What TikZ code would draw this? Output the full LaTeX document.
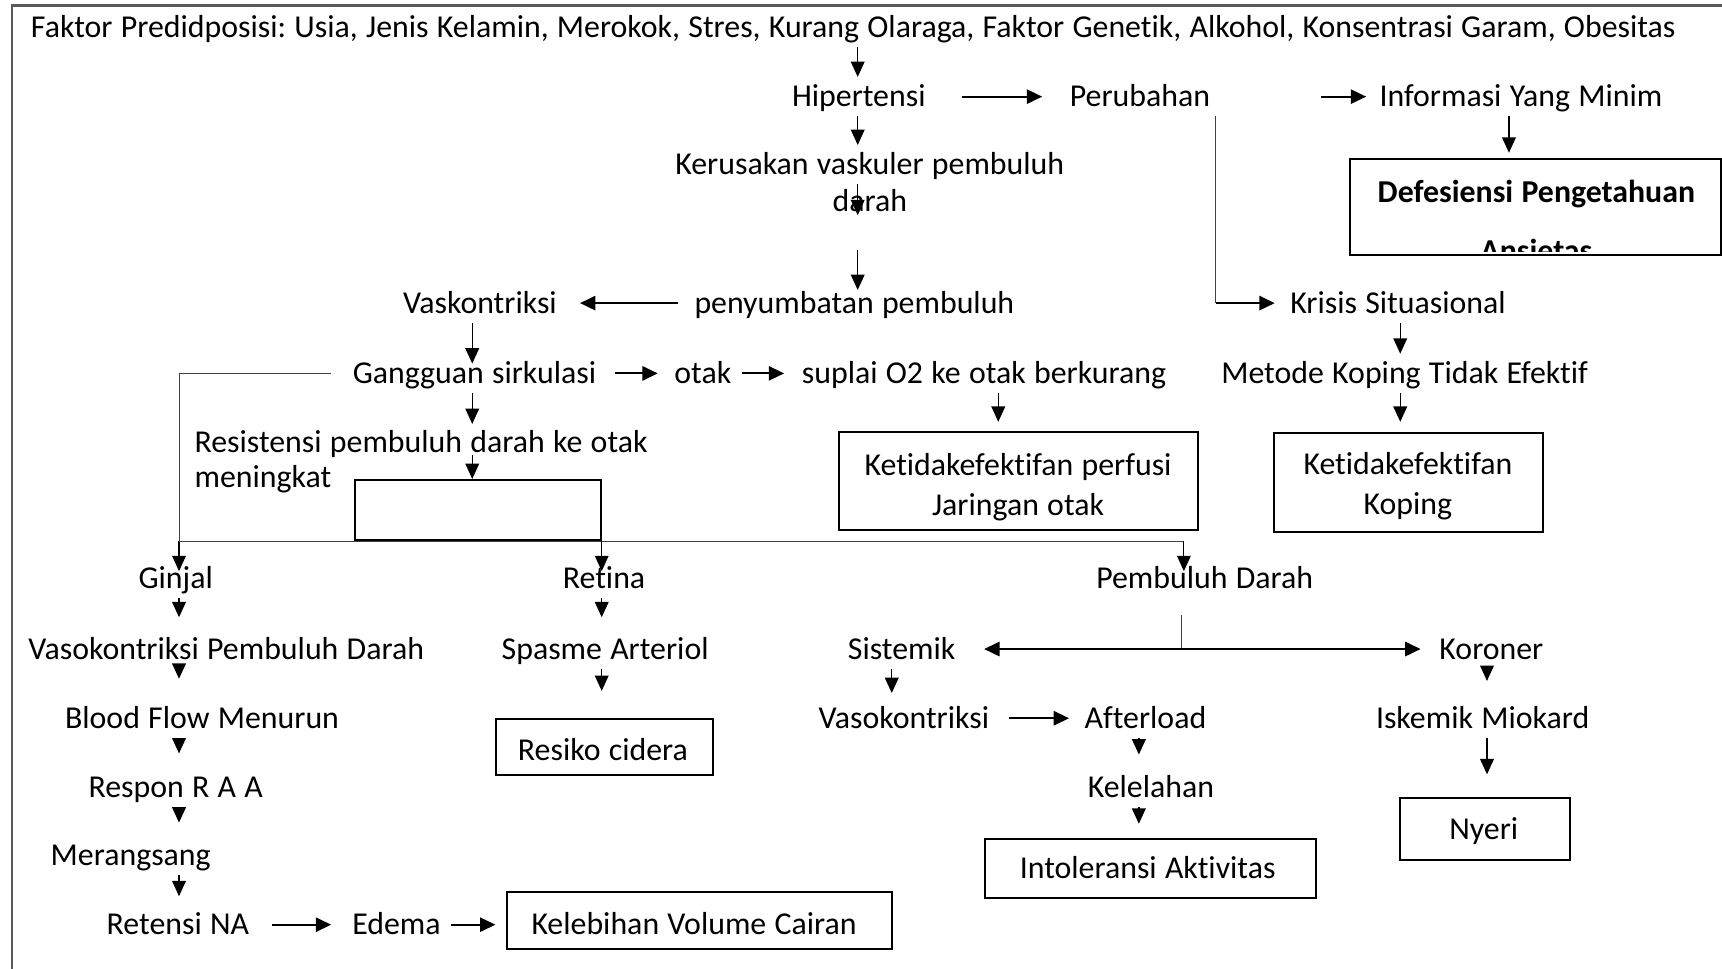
\documentclass[tikz,border=0pt]{standalone}
\usepackage{fontspec}
\setmainfont{Carlito}[Ligatures=NoCommon, WordSpace=1.15]
\usetikzlibrary{arrows.meta,calc}
\begin{document}
\frenchspacing
\begin{tikzpicture}[x=1pt,y=-1pt,
 txt/.style={font=\fontsize{29}{34}\selectfont, text height=22pt, text depth=3.5pt, inner xsep=2pt, inner ysep=5pt},
 btxt/.style={txt, font=\fontsize{29}{34}\selectfont\bfseries},
 mtxt/.style={font=\fontsize{29}{32}\selectfont, inner sep=2pt, align=left},
 box/.style={draw, line width=1.8pt, inner sep=0pt},
 va/.style={line width=1.3pt, -{Triangle[length=14pt,width=12.5pt]}},
 ha/.style={line width=1.9pt, -{Triangle[length=14pt,width=13pt]}},
 da/.style={line width=1.9pt, {Triangle[length=14pt,width=13pt]}-{Triangle[length=14pt,width=13pt]}},
 thinl/.style={line width=0.8pt, draw=black!75},
 frame/.style={line width=2pt, draw=black!65}]
\useasboundingbox (0,0) rectangle (1568,882);
\draw[frame] (10,5) -- (1568,5);
\draw[frame] (11,5) -- (11,882);
% columns
\coordinate (cH) at (781,0);
\coordinate (cG) at (163,0);
\coordinate (cR) at (430,0);
\coordinate (cS) at (909,0);
\coordinate (cI) at (1374,0);
\coordinate (cP) at (1107,0);
\coordinate (cK) at (1275,0);
\coordinate (cD) at (1078,0);
\coordinate (cD2) at (1076,0);
\coordinate (cSi) at (812,0);
\coordinate (cA) at (1037,0);
\coordinate (cN) at (1354,0);
% nodes
\node[txt, anchor=west] (title) at (26,25) {Faktor Predidposisi: Usia, Jenis Kelamin, Merokok, Stres, Kurang Olaraga, Faktor Genetik, Alkohol, Konsentrasi Garam, Obesitas};
\node[txt] (hip) at (782,88) {Hipertensi};
\node[txt] (peru) at (1038,88) {Perubahan};
\node[txt] (info) at (1385,88) {Informasi Yang Minim};
\node[box, minimum width=338pt, minimum height=87pt] (def) at (1398,188.5) {};
\node[btxt] (defT) at (1399,175) {Defesiensi Pengetahuan};
\begin{scope}
\clip (def.north west) rectangle ($(def.south east)+(0,-4)$);
\node[btxt] (ans) at (1399,229) {Ansietas};
\end{scope}
\node[txt] (kerus) at (792,150) {Kerusakan vaskuler pembuluh};
\node[txt] (darah) at (792,183) {darah};
\node[txt] (peny) at (778,276) {penyumbatan pembuluh};
\node[txt] (vask) at (437,276) {Vaskontriksi};
\node[txt] (gang) at (432,340) {Gangguan sirkulasi};
\node[txt] (otak) at (640,340) {otak};
\node[txt] (supl) at (896,340) {suplai O2 ke otak berkurang};
\node[box, minimum width=327pt, minimum height=90pt] (perf) at (927.5,438) {};
\node[txt] (perfA) at (927,424) {Ketidakefektifan perfusi};
\node[txt] (perfB) at (927,460) {Jaringan otak};
\node[txt] (krisis) at (1273,276) {Krisis Situasional};
\node[txt] (metode) at (1279,340) {Metode Koping Tidak Efektif};
\node[box, minimum width=245pt, minimum height=90pt] (kop) at (1282.5,439) {};
\node[txt] (kopA) at (1282,423) {Ketidakefektifan};
\node[txt] (kopB) at (1282,459) {Koping};
\node[mtxt, anchor=north west] (resist) at (175,390) {Resistensi pembuluh darah ke otak\\meningkat};
\node[box, minimum width=224pt, minimum height=55pt] (ebox) at (435,464.5) {};
\node[txt] (ginjal) at (160,527) {Ginjal};
\node[txt] (retina) at (550,527) {Retina};
\node[txt] (pdarah) at (1097,527) {Pembuluh Darah};
\node[txt] (vpd) at (206,591) {Vasokontriksi Pembuluh Darah};
\node[txt] (spasme) at (551,591) {Spasme Arteriol};
\node[txt] (sist) at (821,591) {Sistemik};
\node[txt] (koro) at (1358,591) {Koroner};
\node[txt] (blood) at (184,654) {Blood Flow Menurun};
\node[txt] (respon) at (160,717) {Respon R A A};
\node[txt] (meran) at (119,779) {Merangsang};
\node[txt] (retensi) at (162,842) {Retensi NA};
\node[txt] (edema) at (361,842) {Edema};
\node[box, minimum width=350pt, minimum height=52pt] (kvc) at (637,838) {};
\node[txt] (kvcT) at (632,842) {Kelebihan Volume Cairan};
\node[box, minimum width=197pt, minimum height=51pt] (resiko) at (550.5,680.5) {};
\node[txt] (resikoT) at (549,683) {Resiko cidera};
\node[txt] (vaso2) at (823,654) {Vasokontriksi};
\node[txt] (after) at (1043,654) {Afterload};
\node[txt] (kelel) at (1048,717) {Kelelahan};
\node[box, minimum width=301pt, minimum height=54pt] (intol) at (1047.5,791) {};
\node[txt] (intolT) at (1045,791) {Intoleransi Aktivitas};
\node[txt] (iskem) at (1350,654) {Iskemik Miokard};
\node[box, minimum width=155pt, minimum height=56pt] (nyeri) at (1352.5,755) {};
\node[txt] (nyeriT) at (1351,755) {Nyeri};
% connectors
\draw[va] (title.south -| cH) -- (hip.north -| cH);
\draw[va] (hip.south -| cH) -- (kerus.north -| cH);
\draw[va, shorten >=5pt] (kerus.south -| cH) -- (darah.south -| cH);
\draw[va, shorten <=27pt, shorten >=-6pt] (darah.south -| cH) -- (peny.north -| cH);
\draw[ha, shorten <=13pt, shorten >=19pt] (peny.west) -- (vask.east);
\draw[va, shorten >=-9pt] (vask.south -| cR) -- (gang.north -| cR);
\draw[va, shorten >=4pt] (gang.south -| cR) -- (resist.north -| cR);
\draw[ha, shorten <=15pt, shorten >=13pt] (gang.east) -- (otak.west);
\draw[ha, shorten <=8pt, shorten >=14pt] (otak.east) -- (supl.west);
\draw[va, shorten >=8pt] (supl.south -| cS) -- (perf.north -| cS);
\draw[ha, shorten <=31pt, shorten >=23pt] (hip.east) -- (peru.west);
\draw[ha, shorten <=99pt, shorten >=10pt] (peru.east) -- (info.west);
\draw[va, shorten >=5pt] (info.south -| cI) -- (def.north -| cI);
\draw[thinl] (peru.south -| cP) -- (krisis.west -| cP);
\draw[ha, shorten >=12pt] (krisis.west -| cP) -- (krisis.west);
\draw[va] (krisis.south -| cK) -- (metode.north -| cK);
\draw[va, shorten >=9pt] (metode.south -| cK) -- (kop.north -| cK);
\draw[thinl, shorten <=18pt] (gang.west) -- (gang.west -| cG) -- (ebox.south -| cG);
\draw[va, line width=1pt, shorten >=-11pt] (ebox.south -| cG) -- (ginjal.north -| cG);
\draw[va] ($(ebox.north -| cR)+(0,-22)$) -- (ebox.north -| cR);
\draw[thinl] (ebox.south -| cG) -- (ebox.south -| cD);
\draw[va, line width=1pt, shorten >=-11pt] (ebox.south east) -- (retina.north -| ebox.east);
\draw[va, line width=1pt, shorten >=-11pt] (ebox.south -| cD) -- (pdarah.north -| cD);
\draw[va, shorten >=11pt] (ginjal.south -| cG) -- (vpd.north -| cG);
\draw[va, shorten >=18pt] (vpd.south -| cG) -- (blood.north -| cG);
\draw[va, shorten >=13pt] (blood.south -| cG) -- (respon.north -| cG);
\draw[va, shorten >=12pt] (respon.south -| cG) -- (meran.north -| cG);
\draw[va, shorten >=8pt] (meran.south -| cG) -- (retensi.north -| cG);
\draw[ha, line width=1.6pt, shorten <=19pt, shorten >=17pt] (retensi.east) -- (edema.west);
\draw[ha, line width=1.6pt, shorten <=7pt, shorten >=10pt] (edema.east) -- (edema.east -| kvc.west);
\draw[va, shorten >=11pt] (retina.south -| ebox.east) -- (spasme.north -| ebox.east);
\draw[va, shorten >=25pt] (spasme.south -| ebox.east) -- (resiko.north -| ebox.east);
\draw[thinl, shorten <=15pt] (pdarah.south -| cD2) -- (sist.east -| cD2);
\draw[da, shorten <=24pt, shorten >=15pt] (sist.east) -- (koro.west);
\draw[va, shorten >=5pt] (sist.south -| cSi) -- (vaso2.north -| cSi);
\draw[ha, line width=1.6pt, shorten <=16pt, shorten >=12pt] (vaso2.east) -- (after.west);
\draw[va, shorten >=12pt] (after.south -| cA) -- (kelel.north -| cA);
\draw[va, shorten >=13pt] (kelel.south -| cA) -- (intol.north -| cA);
\draw[va, shorten >=16pt] (koro.south -| cN) -- (iskem.north -| cN);
\draw[va, shorten >=21pt] (iskem.south -| cN) -- (nyeri.north -| cN);
\end{tikzpicture}
\end{document}
